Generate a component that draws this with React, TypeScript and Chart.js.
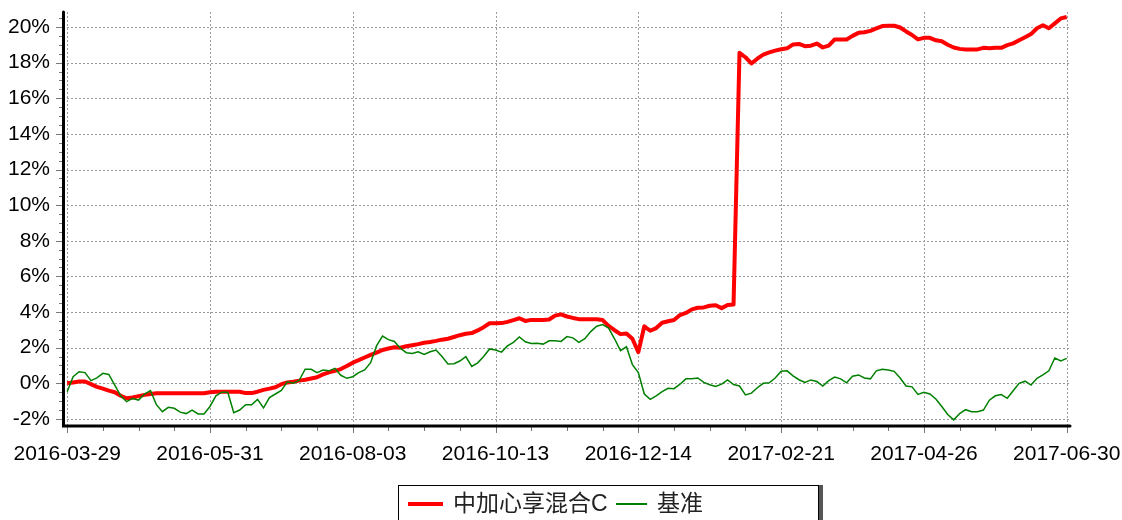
import { useEffect, useRef } from "react";
import { Chart, registerables } from "chart.js";

Chart.register(...registerables);

const tickLabels = ["2016-03-29", "2016-05-31", "2016-08-03", "2016-10-13", "2016-12-14", "2017-02-21", "2017-04-26", "2017-06-30"];
const pointsPerTick = 24;
const yTicks = [-2, 0, 2, 4, 6, 8, 10, 12, 14, 16, 18, 20];
const fundName = "中加心享混合C";
const benchName = "基准";

const fundValues = [
  0.0, 0.05, 0.1, 0.1, -0.05, -0.2, -0.3, -0.41, -0.5, -0.7,
  -0.84, -0.8, -0.72, -0.65, -0.6, -0.56, -0.56, -0.56, -0.56, -0.56,
  -0.56, -0.56, -0.56, -0.56, -0.5, -0.47, -0.47, -0.47, -0.47, -0.47,
  -0.55, -0.55, -0.47, -0.37, -0.3, -0.22, -0.05, 0.05, 0.09, 0.15,
  0.2, 0.27, 0.34, 0.5, 0.62, 0.7, 0.8, 0.97, 1.16, 1.3,
  1.45, 1.6, 1.72, 1.87, 1.95, 2.02, 2.0, 2.08, 2.14, 2.2,
  2.28, 2.32, 2.38, 2.45, 2.5, 2.6, 2.7, 2.78, 2.82, 2.97,
  3.15, 3.37, 3.37, 3.38, 3.45, 3.55, 3.65, 3.5, 3.56, 3.55,
  3.56, 3.58, 3.8, 3.87, 3.75, 3.67, 3.6, 3.6, 3.6, 3.6,
  3.55, 3.22, 2.98, 2.76, 2.8, 2.5, 1.75, 3.2, 2.95, 3.1,
  3.4, 3.48, 3.55, 3.83, 3.95, 4.15, 4.24, 4.26, 4.35, 4.38,
  4.22, 4.4, 4.42, 18.55, 18.3, 17.95, 18.22, 18.45, 18.57, 18.67,
  18.75, 18.8, 19.02, 19.05, 18.92, 18.95, 19.07, 18.85, 18.95, 19.3,
  19.3, 19.3, 19.5, 19.67, 19.7, 19.78, 19.92, 20.05, 20.07, 20.07,
  19.97, 19.75, 19.55, 19.3, 19.39, 19.39, 19.25, 19.2, 19.0, 18.85,
  18.77, 18.74, 18.74, 18.74, 18.83, 18.8, 18.83, 18.83, 18.98, 19.08,
  19.25, 19.42, 19.6, 19.93, 20.1, 19.93, 20.2, 20.48, 20.56,
];

const benchValues = [
  -0.47, 0.37, 0.65, 0.6, 0.15, 0.3, 0.56, 0.5, -0.1, -0.7,
  -1.03, -0.85, -0.94, -0.6, -0.41, -1.2, -1.59, -1.35, -1.4, -1.62,
  -1.7, -1.5, -1.72, -1.72, -1.3, -0.7, -0.5, -0.5, -1.65, -1.5,
  -1.2, -1.2, -0.9, -1.38, -0.8, -0.6, -0.4, 0.08, 0.0, 0.17,
  0.79, 0.79, 0.6, 0.75, 0.7, 0.84, 0.45, 0.28, 0.37, 0.6,
  0.75, 1.16, 2.1, 2.65, 2.45, 2.35, 1.97, 1.72, 1.68, 1.77,
  1.62, 1.77, 1.87, 1.5, 1.08, 1.1, 1.25, 1.5, 0.95, 1.15,
  1.5, 1.93, 1.87, 1.75, 2.1, 2.3, 2.6, 2.33, 2.24, 2.25,
  2.2, 2.39, 2.39, 2.35, 2.62, 2.55, 2.3, 2.5, 2.9, 3.2,
  3.3, 3.1, 2.5, 1.83, 2.05, 1.05, 0.6, -0.6, -0.9, -0.7,
  -0.47, -0.28, -0.3, -0.05, 0.25, 0.25, 0.3, 0.05, -0.08, -0.18,
  -0.05, 0.19, -0.07, -0.15, -0.65, -0.55, -0.25, 0.0, 0.03, 0.3,
  0.68, 0.7, 0.42, 0.2, 0.05, 0.19, 0.1, -0.15, 0.15, 0.35,
  0.25, 0.03, 0.4, 0.47, 0.3, 0.25, 0.7, 0.79, 0.75, 0.67,
  0.3, -0.15, -0.2, -0.62, -0.5, -0.6, -0.88, -1.3, -1.75, -2.05,
  -1.7, -1.48, -1.59, -1.59, -1.5, -0.95, -0.7, -0.63, -0.84, -0.42,
  0.0, 0.12, -0.1, 0.28, 0.47, 0.7, 1.42, 1.25, 1.4,
];

const FONT = "'Liberation Sans', Arial, 'Noto Sans CJK SC', sans-serif";

const zeroPadding = (scale: any) => {
  scale.paddingTop = 0;
  scale.paddingBottom = 0;
  scale.paddingLeft = 0;
  scale.paddingRight = 0;
};

const decorPlugin = {
  id: "decor",
  beforeDatasetsDraw(chart: any) {
    const { ctx, chartArea, scales } = chart;
    const x = scales.x;
    const y = scales.y;
    ctx.save();
    ctx.strokeStyle = "#9a9a9a";
    ctx.lineWidth = 1;
    ctx.setLineDash([2, 2]);
    yTicks.forEach((v) => {
      const py = Math.round(y.getPixelForValue(v)) + 0.5;
      ctx.beginPath();
      ctx.moveTo(chartArea.left, py);
      ctx.lineTo(chartArea.right, py);
      ctx.stroke();
    });
    tickLabels.forEach((_, j) => {
      const px = Math.round(x.getPixelForValue(j * pointsPerTick)) + 0.5;
      ctx.beginPath();
      ctx.moveTo(px, chartArea.top);
      ctx.lineTo(px, chartArea.bottom);
      ctx.stroke();
    });
    ctx.restore();
  },
  afterDatasetsDraw(chart: any) {
    const { ctx, chartArea, scales } = chart;
    const x = scales.x;
    const y = scales.y;
    ctx.save();
    ctx.setLineDash([]);
    ctx.strokeStyle = "#777";
    ctx.lineWidth = 1;
    for (let v = -2; v <= 20.5; v += 0.5) {
      const major = Math.abs(v % 2) < 1e-6;
      const py = Math.round(y.getPixelForValue(v)) + 0.5;
      ctx.beginPath();
      ctx.moveTo(chartArea.left - (major ? 7 : 4), py);
      ctx.lineTo(chartArea.left, py);
      ctx.stroke();
    }
    for (let j = 0; j < tickLabels.length; j++) {
      for (let q = 0; q < 4; q++) {
        if (j === tickLabels.length - 1 && q > 0) break;
        const val = (j + q / 4) * pointsPerTick;
        const px = Math.round(x.getPixelForValue(val)) + 0.5;
        ctx.beginPath();
        ctx.moveTo(px, chartArea.bottom);
        ctx.lineTo(px, chartArea.bottom + (q === 0 ? 8 : 6));
        ctx.stroke();
      }
    }
    ctx.strokeStyle = "#000";
    ctx.lineWidth = 3;
    ctx.lineCap = "round";
    ctx.beginPath();
    ctx.moveTo(chartArea.left + 0.5, chartArea.top);
    ctx.lineTo(chartArea.left + 0.5, chartArea.bottom + 1);
    ctx.lineTo(chartArea.right, chartArea.bottom + 1);
    ctx.stroke();
    ctx.restore();
  },
};

export default function App() {
  const canvasRef = useRef<HTMLCanvasElement | null>(null);

  useEffect(() => {
    const canvas = canvasRef.current;
    if (!canvas) return;
    const chart = new Chart(canvas, {
      type: "line",
      data: {
        datasets: [
          {
            label: benchName,
            data: benchValues.map((v, i) => ({ x: i, y: v })),
            borderColor: "#008000",
            borderWidth: 1.5,
            pointRadius: 0,
            tension: 0,
            fill: false,
            order: 0,
          },
          {
            label: fundName,
            data: fundValues.map((v, i) => ({ x: i, y: v })),
            borderColor: "#ff0000",
            borderWidth: 4,
            pointRadius: 0,
            tension: 0,
            fill: false,
            borderJoinStyle: "round",
            order: 1,
          },
        ],
      },
      options: {
        responsive: false,
        animation: false,
        devicePixelRatio: 1,
        layout: { padding: { left: 0, top: 12, right: 52, bottom: 0 } },
        plugins: {
          legend: { display: false },
          tooltip: { enabled: false },
        },
        scales: {
          x: {
            type: "linear",
            min: -0.7,
            max: 168.55,
            grid: { display: false },
            border: { display: false },
            afterFit: (scale: any) => {
              scale.height = 95;
              zeroPadding(scale);
            },
            afterBuildTicks: (scale: any) => {
              scale.ticks = tickLabels.map((_, j) => ({ value: j * pointsPerTick }));
            },
            ticks: {
              autoSkip: false,
              maxRotation: 0,
              padding: 9,
              color: "#000",
              font: { family: FONT, size: 21 },
              callback: (_v: any, index: number) => tickLabels[index],
            },
          },
          y: {
            type: "linear",
            min: -2.34,
            max: 20.84,
            grid: { display: false },
            border: { display: false },
            afterFit: (scale: any) => {
              scale.width = 63;
              zeroPadding(scale);
            },
            afterBuildTicks: (scale: any) => {
              scale.ticks = yTicks.map((v) => ({ value: v }));
            },
            ticks: {
              autoSkip: false,
              padding: 5,
              color: "#000",
              font: { family: FONT, size: 21 },
              callback: (v: any) => `${v}%`,
            },
          },
        },
      },
      plugins: [decorPlugin],
    });
    return () => chart.destroy();
  }, []);

  return (
    <div style={{ position: "fixed", left: 0, top: 0, width: 1122, height: 520, background: "#fff", overflow: "hidden" }}>
      <canvas ref={canvasRef} width={1122} height={520} style={{ position: "absolute", left: 0, top: 0 }} />
      <div
        style={{
          position: "absolute",
          left: 398,
          top: 485,
          width: 419,
          height: 50,
          border: "1px solid #000",
          background: "#fff",
          boxShadow: "4px 0 0 #555",
          fontFamily: FONT,
          fontSize: 23,
          color: "#222",
        }}
      >
        <div style={{ position: "absolute", left: 9, top: 16, width: 35, height: 4, background: "#ff0000" }} />
        <div style={{ position: "absolute", left: 54, top: 2, lineHeight: "30px", whiteSpace: "nowrap" }}>{fundName}</div>
        <div style={{ position: "absolute", left: 217, top: 17, width: 31, height: 2, background: "#008000" }} />
        <div style={{ position: "absolute", left: 258, top: 2, lineHeight: "30px", whiteSpace: "nowrap" }}>{benchName}</div>
      </div>
    </div>
  );
}
